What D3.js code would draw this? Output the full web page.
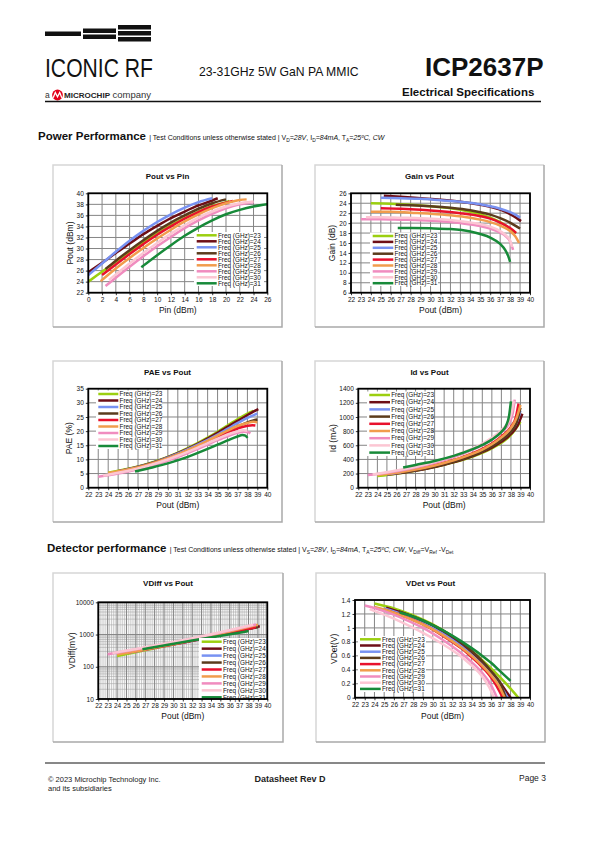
<!DOCTYPE html>
<html><head><meta charset="utf-8">
<script src="https://cdn.jsdelivr.net/npm/d3@7"></script>
<style>body{margin:0;background:#fff} svg{display:block;font-family:"Liberation Sans",Arial,sans-serif}</style>
</head><body>
<svg id="page" width="595" height="842"></svg>
<script>
// ---------------- DATA ----------------
const freqs = [23,24,25,26,27,28,29,30,31];
const seriesColors = ["#9bcf10","#6e0e17","#7892f2","#5b3b1c","#e8112d","#f19c4c","#f08cbf","#fcc6d3","#178a39"];

const pinTicks = [0,2,4,6,8,10,12,14,16,18,20,22,24,26];
const poutTicks = [22,23,24,25,26,27,28,29,30,31,32,33,34,35,36,37,38,39,40];
const poutYTicks = [22,24,26,28,30,32,34,36,38,40];
const gainTicks = [6,8,10,12,14,16,18,20,22,24,26];
const paeTicks = [0,5,10,15,20,25,30,35];
const idTicks = [0,200,400,600,800,1000,1200,1400];
const vdiffTicks = [10,100,1000,10000];
const vdetTicks = [0,0.2,0.4,0.6,0.8,1,1.2,1.4];

// Pout (dBm) vs Pin (dBm)
const pinPoutData = [
  [[0,24.0],[2,25.8],[4,27.6],[6,29.4],[8,31.1],[10,32.7],[12,34.2],[14,35.5],[16,36.7],[18,37.7],[20,38.4],[20.5,38.6]],
  [[0,25.7],[2,27.4],[4,29.2],[6,30.9],[8,32.6],[10,34.1],[12,35.5],[14,36.7],[16,37.8],[18,38.7],[18.8,39.1]],
  [[0,25.2],[2,27.3],[4,29.4],[6,31.4],[8,33.2],[10,34.8],[12,36.2],[14,37.4],[16,38.4],[18,39.1]],
  [[2.5,26.3],[4,27.8],[6,29.7],[8,31.5],[10,33.2],[12,34.7],[14,36.0],[16,37.2],[18,38.2],[20,38.9]],
  [[2,25.2],[4,27.1],[6,29.0],[8,30.8],[10,32.5],[12,34.0],[14,35.4],[16,36.6],[18,37.6],[20,38.3],[21,38.6]],
  [[1.8,24.1],[4,26.4],[6,28.3],[8,30.1],[10,31.8],[12,33.4],[14,34.9],[16,36.2],[18,37.3],[20,38.2],[22,38.8],[23,38.9]],
  [[2.5,23.2],[4,24.7],[6,26.7],[8,28.6],[10,30.4],[12,32.1],[14,33.7],[16,35.1],[18,36.3],[20,37.3],[22,38.0],[24,38.4]],
  [[3,24.3],[4,25.3],[6,27.3],[8,29.2],[10,31.0],[12,32.7],[14,34.2],[16,35.6],[18,36.7],[20,37.6],[22,38.2],[24,38.5]],
  [[7.7,26.6],[8,26.9],[10,28.8],[12,30.6],[14,32.3],[16,33.8],[18,35.1],[20,36.2],[22,37.0],[24,37.6],[26,38.0]]
];
// Gain (dB) vs Pout (dBm)
const gainData = [
  [[24,24.0],[26,23.9],[28,23.7],[30,23.4],[32,23.0],[33,22.7],[34,22.3],[35,21.8],[36,21.1],[37,20.2],[37.5,19.6],[38,18.8],[38.6,18.0]],
  [[25.3,25.5],[27,25.3],[29,25.0],[31,24.7],[33,24.3],[35,23.7],[36,23.3],[37,22.7],[38,21.8],[38.6,21.1],[39.1,20.4]],
  [[25,25.1],[27,25.0],[29,24.9],[31,24.6],[33,24.3],[35,23.8],[36,23.4],[37,22.9],[38,22.2],[38.6,21.6],[39,21.1]],
  [[26.5,23.7],[28,23.6],[30,23.4],[32,23.1],[34,22.6],[35,22.2],[36,21.7],[37,21.0],[38,20.1],[38.6,19.4],[39,18.9]],
  [[25,23.0],[27,22.9],[29,22.7],[31,22.4],[33,22.0],[35,21.4],[36,20.9],[37,20.1],[38,19.0],[38.4,18.4],[38.6,18.0]],
  [[24,22.3],[26,22.3],[28,22.1],[30,21.9],[32,21.6],[34,21.1],[35,20.7],[36,20.2],[37,19.5],[38,18.4],[38.5,17.4],[38.9,16.0]],
  [[23,20.8],[25,20.8],[27,20.7],[29,20.6],[31,20.4],[33,20.0],[35,19.4],[36,18.9],[37,18.1],[37.6,17.3],[38,16.3],[38.3,14.6]],
  [[23.5,21.2],[25,21.2],[27,21.1],[29,21.0],[31,20.8],[33,20.4],[35,19.8],[36,19.3],[37,18.4],[37.6,17.5],[38,16.5],[38.2,15.2]],
  [[26.7,19.0],[28,19.0],[30,18.95],[32,18.8],[34,18.3],[35,17.8],[36,17.1],[37,15.8],[37.5,14.6],[37.8,13.4],[38,12.2]]
];
// PAE (%) vs Pout (dBm)
const paeData = [
  [[24,5.3],[26,6.7],[28,8.5],[30,10.9],[32,14.0],[34,17.7],[35,19.8],[36,22.0],[37,24.2],[38,26.2],[38.6,27.2]],
  [[25,5.8],[27,7.4],[29,9.5],[31,12.2],[33,15.5],[35,19.4],[36,21.5],[37,23.6],[38,25.7],[38.6,26.9],[39.1,27.8]],
  [[25,5.7],[27,7.3],[29,9.4],[31,12.0],[33,15.2],[35,18.8],[36,20.8],[37,22.8],[38,24.7],[38.6,25.6],[39,26.2]],
  [[26.5,6.8],[28,8.2],[30,10.4],[32,13.1],[34,16.3],[35,18.1],[36,19.9],[37,21.6],[38,23.1],[38.6,23.8],[39,24.1]],
  [[25,5.6],[27,7.1],[29,9.1],[31,11.6],[33,14.6],[35,17.9],[36,19.5],[37,20.9],[38,21.9],[38.5,22.1],[38.8,22.0]],
  [[24,5.2],[26,6.4],[28,8.1],[30,10.4],[32,13.3],[34,16.6],[35,18.4],[36,20.2],[37,21.8],[38,22.9],[38.6,23.3],[39,23.1]],
  [[23,3.9],[25,5.0],[27,6.5],[29,8.4],[31,10.8],[33,13.7],[35,16.8],[36,18.2],[37,19.4],[37.6,19.8],[38,19.7],[38.3,19.2]],
  [[23.5,4.3],[25,5.3],[27,6.8],[29,8.8],[31,11.3],[33,14.2],[35,17.3],[36,18.8],[37,19.9],[37.6,20.3],[38,20.1]],
  [[26.7,5.7],[28,6.8],[30,8.6],[32,10.9],[34,13.7],[35,15.2],[36,16.7],[37,18.1],[37.5,18.6],[37.8,18.4],[38,17.6]]
];
// Id (mA) vs Pout (dBm)
const idData = [
  [[24,165],[26,198],[28,240],[30,292],[32,358],[34,440],[35,492],[36,555],[37,635],[38,745],[38.6,850],[39,930]],
  [[25,185],[27,220],[29,265],[31,325],[33,400],[34,448],[35,502],[36,568],[37,650],[38,760],[38.7,880],[39.2,1045]],
  [[25,190],[27,228],[29,275],[31,337],[33,415],[34,465],[35,522],[36,592],[37,680],[38,800],[38.6,920],[39,1090]],
  [[26.5,210],[28,245],[30,298],[32,365],[34,455],[35,512],[36,582],[37,670],[38,790],[38.6,920],[39,1130]],
  [[25,200],[27,238],[29,288],[31,352],[33,435],[34,487],[35,548],[36,625],[37,725],[38,860],[38.5,990],[38.8,1190]],
  [[24,180],[26,212],[28,257],[30,315],[32,388],[34,482],[35,540],[36,615],[37,712],[38,845],[38.6,990],[39,1170]],
  [[23,178],[25,212],[27,258],[29,316],[31,390],[33,482],[35,600],[36,680],[37,785],[37.8,910],[38.2,1060],[38.4,1245]],
  [[23.5,188],[25,220],[27,267],[29,328],[31,404],[33,500],[35,622],[36,705],[37,815],[37.8,950],[38.1,1080],[38.3,1230]],
  [[26.7,285],[28,322],[30,378],[32,450],[34,545],[35,605],[36,680],[37,790],[37.5,880],[37.8,1010],[38,1220]]
];
// VDiff (mV) vs Pout (dBm)
const vdiffData = [
  [[24,215],[31,560],[39,1750]],
  [[25,270],[32,650],[39.2,1800]],
  [[25,265],[32,640],[39,1750]],
  [[26.5,330],[32.5,700],[39,1700]],
  [[25,270],[32,640],[38.8,1700]],
  [[24,240],[31,580],[39,2000]],
  [[23,245],[31,640],[38.8,2050]],
  [[23.5,265],[31,660],[38.5,2000]],
  [[26.7,350],[32,650],[38,1280]]
];
// VDet (V) vs Pout (dBm)
const vdetData = [
  [[24,1.35],[26,1.28],[28,1.18],[30,1.05],[32,0.88],[34,0.67],[35,0.55],[36,0.42],[37,0.28],[38,0.13],[38.8,0.0]],
  [[25.2,1.29],[27,1.21],[29,1.10],[31,0.95],[33,0.76],[34,0.65],[35,0.52],[36,0.37],[37,0.20],[37.7,0.06],[38,0.0]],
  [[25,1.28],[27,1.19],[29,1.07],[31,0.92],[33,0.73],[34,0.61],[35,0.48],[36,0.33],[37,0.16],[37.7,0.0]],
  [[26.5,1.24],[28,1.16],[30,1.04],[32,0.88],[34,0.67],[35,0.54],[36,0.38],[37,0.19],[37.5,0.0]],
  [[25,1.26],[27,1.17],[29,1.05],[31,0.89],[33,0.70],[34,0.58],[35,0.45],[36,0.29],[36.6,0.16],[37.2,0.0]],
  [[24,1.30],[26,1.22],[28,1.11],[30,0.98],[32,0.81],[34,0.60],[35,0.47],[36,0.32],[36.8,0.17],[37.4,0.0]],
  [[23,1.32],[25,1.24],[27,1.13],[29,1.00],[31,0.83],[33,0.63],[34,0.51],[35,0.37],[36,0.18],[36.6,0.0]],
  [[23.5,1.27],[25,1.19],[27,1.07],[29,0.93],[31,0.77],[33,0.58],[34,0.46],[35,0.32],[35.8,0.15],[36.3,0.0]],
  [[26.6,1.22],[28,1.16],[30,1.04],[32,0.89],[34,0.71],[35,0.61],[36,0.50],[37,0.37],[38,0.24]]
];

// ---------------- DRAWING ----------------
const svg = d3.select("#page");
svg.append("rect").attr("width",595).attr("height",842).attr("fill","#fff");

// Header logo bars
const bars = [[45,81,31.5,36],[83,116,28.5,33],[83,116,34.5,39],[118,151,25,29.5],[118,151,31,35.5],[118,151,37,41.5]];
bars.forEach(b=>svg.append("rect").attr("x",b[0]).attr("y",b[2]).attr("width",b[1]-b[0]).attr("height",b[3]-b[2]).attr("fill","#111"));

svg.append("text").attr("x",45).attr("y",77).attr("font-size",25).attr("textLength",108).attr("lengthAdjust","spacingAndGlyphs").attr("fill","#111").text("ICONIC RF");
svg.append("text").attr("x",45).attr("y",98).attr("font-size",8.5).attr("fill","#333").text("a");
svg.append("circle").attr("cx",57.5).attr("cy",95).attr("r",5.4).attr("fill","#e3001b");
svg.append("path").attr("d","M53.2,97.8 L55.3,92.5 L57.5,96.8 L59.7,92.5 L61.8,97.8").attr("fill","none").attr("stroke","#fff").attr("stroke-width",1.3);
svg.append("text").attr("x",64).attr("y",98).attr("font-size",7.5).attr("font-weight","bold").attr("fill","#222").attr("textLength",46).attr("lengthAdjust","spacingAndGlyphs").text("MICROCHIP");
svg.append("text").attr("x",112.5).attr("y",98).attr("font-size",9.5).attr("fill","#333").text("company");

svg.append("text").attr("x",199).attr("y",76).attr("font-size",12.2).attr("fill","#111").text("23-31GHz 5W GaN PA MMIC");
svg.append("text").attr("x",425).attr("y",76).attr("font-size",26).attr("font-weight","bold").attr("fill","#111").text("ICP2637P");
svg.append("text").attr("x",402).attr("y",96).attr("font-size",11.5).attr("font-weight","bold").attr("fill","#111").text("Electrical Specifications");
svg.append("line").attr("x1",45).attr("x2",541).attr("y1",101.5).attr("y2",101.5).attr("stroke","#111").attr("stroke-width",1.3);

function rich(x,y,parts,size){
  const t = svg.append("text").attr("x",x).attr("y",y).attr("font-size",size).attr("fill","#111");
  let shifted = 0;
  parts.forEach(p=>{
    const ts = t.append("tspan").text(p.t);
    let dy = 0;
    if(p.sub){ dy = size*0.3 - shifted; shifted = size*0.3; ts.attr("font-size",size*0.7);} 
    else { dy = -shifted; shifted = 0; }
    if(dy) ts.attr("dy",dy);
    if(p.it) ts.attr("font-style","italic");
    if(p.b) ts.attr("font-weight","bold").attr("font-size",p.size);
    if(p.size && !p.b) ts.attr("font-size",p.size);
  });
  return t;
}
rich(38,140,[{t:"Power Performance ",b:true,size:11.5},{t:"| Test Conditions unless otherwise stated | V"},{t:"D",sub:true},{t:"=28V",it:true},{t:", I"},{t:"D",sub:true},{t:"=84mA",it:true},{t:", T"},{t:"A",sub:true},{t:"=25ºC, CW",it:true}],7);
rich(47,552,[{t:"Detector performance ",b:true,size:11.5},{t:"  | Test Conditions unless otherwise stated | V"},{t:"S",sub:true},{t:"=28V",it:true},{t:", I"},{t:"D",sub:true},{t:"=84mA",it:true},{t:", T"},{t:"A",sub:true},{t:"=25ºC, CW",it:true},{t:", V"},{t:"Diff",sub:true},{t:"=V"},{t:"Ref",sub:true},{t:" -V"},{t:"Det",sub:true}],7);

// Footer
svg.append("line").attr("x1",45).attr("x2",545).attr("y1",763).attr("y2",763).attr("stroke","#111").attr("stroke-width",1);
svg.append("text").attr("x",48).attr("y",782).attr("font-size",7.5).attr("fill","#222").text("© 2023 Microchip Technology Inc.");
svg.append("text").attr("x",48).attr("y",791).attr("font-size",7.5).attr("fill","#222").text("and its subsidiaries");
svg.append("text").attr("x",290).attr("y",782).attr("text-anchor","middle").attr("font-size",9).attr("font-weight","bold").attr("fill","#222").text("Datasheet Rev D");
svg.append("text").attr("x",519).attr("y",781).attr("font-size",8.5).attr("fill","#222").text("Page 3");

let clipId = 0;
function drawChart(c){
  const g = svg.append("g");
  const P = c.panel, L = c.plot;
  // panel frame
  g.append("path").attr("d",`M${P[0]},${P[3]}V${P[1]}H${P[2]}`).attr("fill","none").attr("stroke","#d6d6d6").attr("stroke-width",1.5);
  g.append("path").attr("d",`M${P[2]},${P[1]}V${P[3]}H${P[0]}`).attr("fill","none").attr("stroke","#a9a9a9").attr("stroke-width",1.5);
  // title
  g.append("text").attr("x",(P[0]+P[2])/2).attr("y",c.titleY).attr("text-anchor","middle").attr("font-size",8).attr("font-weight","bold").attr("fill","#111").text(c.title);

  const x = d3.scaleLinear().domain(c.xDomain).range([L.l,L.r]);
  const y = (c.log ? d3.scaleLog() : d3.scaleLinear()).domain(c.yDomain).range([L.b,L.t]);

  g.append("rect").attr("x",L.l).attr("y",L.t).attr("width",L.r-L.l).attr("height",L.b-L.t).attr("fill","#fff");
  // minor grid (log chart)
  if(c.log){
    const minorX = d3.range(c.xDomain[0]*5, c.xDomain[1]*5+1).map(v=>v/5);
    g.append("g").selectAll("line").data(minorX).join("line")
      .attr("x1",d=>x(d)).attr("x2",d=>x(d)).attr("y1",L.t).attr("y2",L.b).attr("stroke","#a8a8a8").attr("stroke-width",0.6);
    const minorY = [];
    [10,100,1000].forEach(dec=>{for(let k=2;k<=9;k++) minorY.push(dec*k);});
    g.append("g").selectAll("line").data(minorY).join("line")
      .attr("x1",L.l).attr("x2",L.r).attr("y1",d=>y(d)).attr("y2",d=>y(d)).attr("stroke","#a8a8a8").attr("stroke-width",0.6);
  }
  // major grid
  g.append("g").selectAll("line").data(c.xTicks).join("line")
    .attr("x1",d=>x(d)).attr("x2",d=>x(d)).attr("y1",L.t).attr("y2",L.b).attr("stroke","#858585").attr("stroke-width",1);
  g.append("g").selectAll("line").data(c.yTicks).join("line")
    .attr("x1",L.l).attr("x2",L.r).attr("y1",d=>y(d)).attr("y2",d=>y(d)).attr("stroke","#858585").attr("stroke-width",1);

  // series
  clipId++;
  g.append("clipPath").attr("id","clip"+clipId).append("rect").attr("x",L.l).attr("y",L.t-1).attr("width",L.r-L.l).attr("height",L.b-L.t+1);
  const line = d3.line().x(d=>x(d[0])).y(d=>y(d[1])).curve(d3.curveMonotoneX);
  g.append("g").attr("clip-path",`url(#clip${clipId})`).selectAll("path").data(c.data).join("path")
    .attr("d",line).attr("fill","none").attr("stroke",(d,i)=>seriesColors[i]).attr("stroke-width",2.5).attr("stroke-linecap","butt");

  // legend
  const Lg = c.legend;
  g.append("rect").attr("x",Lg.box[0]).attr("y",Lg.box[1]).attr("width",Lg.box[2]-Lg.box[0]).attr("height",Lg.box[3]-Lg.box[1]).attr("fill","#fff");
  const rows = g.append("g").selectAll("g").data(freqs).join("g");
  rows.append("line").attr("x1",Lg.x0).attr("x2",Lg.x1).attr("y1",(d,i)=>Lg.y0+i*Lg.dy).attr("y2",(d,i)=>Lg.y0+i*Lg.dy)
    .attr("stroke",(d,i)=>seriesColors[i]).attr("stroke-width",2.5);
  rows.append("text").attr("x",Lg.x1+1.2).attr("y",(d,i)=>Lg.y0+i*Lg.dy+2.2).attr("font-size",6.4).attr("fill","#111").text(d=>`Freq (GHz)=${d}`);

  // frame
  g.append("rect").attr("x",L.l).attr("y",L.t).attr("width",L.r-L.l).attr("height",L.b-L.t).attr("fill","none").attr("stroke","#000").attr("stroke-width",1.8);

  // axes
  const ax = g.append("g").attr("transform",`translate(0,${L.b})`)
    .call(d3.axisBottom(x).tickValues(c.xTicks).tickSize(2.5).tickPadding(1.8).tickFormat(d=>String(d)));
  const ay = g.append("g").attr("transform",`translate(${L.l},0)`)
    .call(d3.axisLeft(y).tickValues(c.yTicks).tickSize(2.5).tickPadding(2).tickFormat(d=>String(d)));
  [ax,ay].forEach(a=>{
    a.select(".domain").remove();
    a.selectAll("line").attr("stroke","#000").attr("stroke-width",0.8);
    a.selectAll("text").attr("font-size",6.5).attr("fill","#111").attr("font-family",'"Liberation Sans",Arial,sans-serif');
  });
  // axis titles
  g.append("text").attr("x",(L.l+L.r)/2).attr("y",c.xTitleY).attr("text-anchor","middle").attr("font-size",8.5).attr("fill","#111").text(c.xTitle);
  g.append("text").attr("transform",`translate(${c.yTitleX},${(L.t+L.b)/2}) rotate(-90)`).attr("text-anchor","middle").attr("font-size",8.5).attr("fill","#111").text(c.yTitle);
}

drawChart({panel:[53,165,282,327], title:"Pout vs Pin", titleY:179,
  plot:{l:88.3,r:267.3,t:193.3,b:292.7}, xDomain:[0,26], yDomain:[22,40], xTicks:pinTicks, yTicks:poutYTicks,
  data:pinPoutData, xTitle:"Pin (dBm)", xTitleY:312.7, yTitle:"Pout (dBm)", yTitleX:72.5,
  legend:{box:[194,232,264,286], x0:196.7, x1:216.7, y0:235.3, dy:6.0}});

drawChart({panel:[315,165,544,327], title:"Gain vs Pout", titleY:179,
  plot:{l:351,r:530,t:193.3,b:292.7}, xDomain:[22,40], yDomain:[6,26], xTicks:poutTicks, yTicks:gainTicks,
  data:gainData, xTitle:"Pout (dBm)", xTitleY:312.7, yTitle:"Gain (dB)", yTitleX:335,
  legend:{box:[370,232.5,438,286], x0:372.7, x1:393.3, y0:236, dy:5.9}});

drawChart({panel:[53,361,282,522], title:"PAE vs Pout", titleY:374.5,
  plot:{l:88.3,r:267.3,t:388.7,b:487.7}, xDomain:[22,40], yDomain:[0,35], xTicks:poutTicks, yTicks:paeTicks,
  data:paeData, xTitle:"Pout (dBm)", xTitleY:508.3, yTitle:"PAE (%)", yTitleX:72,
  legend:{box:[96,390.5,162,449], x0:98.3, x1:118.3, y0:394, dy:6.5}});

drawChart({panel:[315,361,544,522], title:"Id vs Pout", titleY:374.5,
  plot:{l:358.3,r:530,t:388.7,b:487.7}, xDomain:[22,40], yDomain:[0,1400], xTicks:poutTicks, yTicks:idTicks,
  data:idData, xTitle:"Pout (dBm)", xTitleY:508.3, yTitle:"Id (mA)", yTitleX:336,
  legend:{box:[367,391.5,432,456], x0:369.3, x1:390, y0:395, dy:7.2}});

drawChart({panel:[53,573,283,742], title:"VDiff vs Pout", titleY:586, log:true,
  plot:{l:98.3,r:267.3,t:602.3,b:699}, xDomain:[22,40], yDomain:[10,10000], xTicks:poutTicks, yTicks:vdiffTicks,
  data:vdiffData, xTitle:"Pout (dBm)", xTitleY:719.3, yTitle:"VDiff(mV)", yTitleX:74.5,
  legend:{box:[199,638,266,699], x0:201.7, x1:221.7, y0:641.7, dy:6.95}});

drawChart({panel:[316,573,545,742], title:"VDet vs Pout", titleY:586,
  plot:{l:355,r:530,t:600,b:697.7}, xDomain:[22,40], yDomain:[0,1.4], xTicks:poutTicks, yTicks:vdetTicks,
  data:vdetData, xTitle:"Pout (dBm)", xTitleY:719, yTitle:"VDet(V)", yTitleX:336.5,
  legend:{box:[358,636,426,692], x0:360, x1:380.7, y0:639.3, dy:6.2}});
</script>
</body></html>
